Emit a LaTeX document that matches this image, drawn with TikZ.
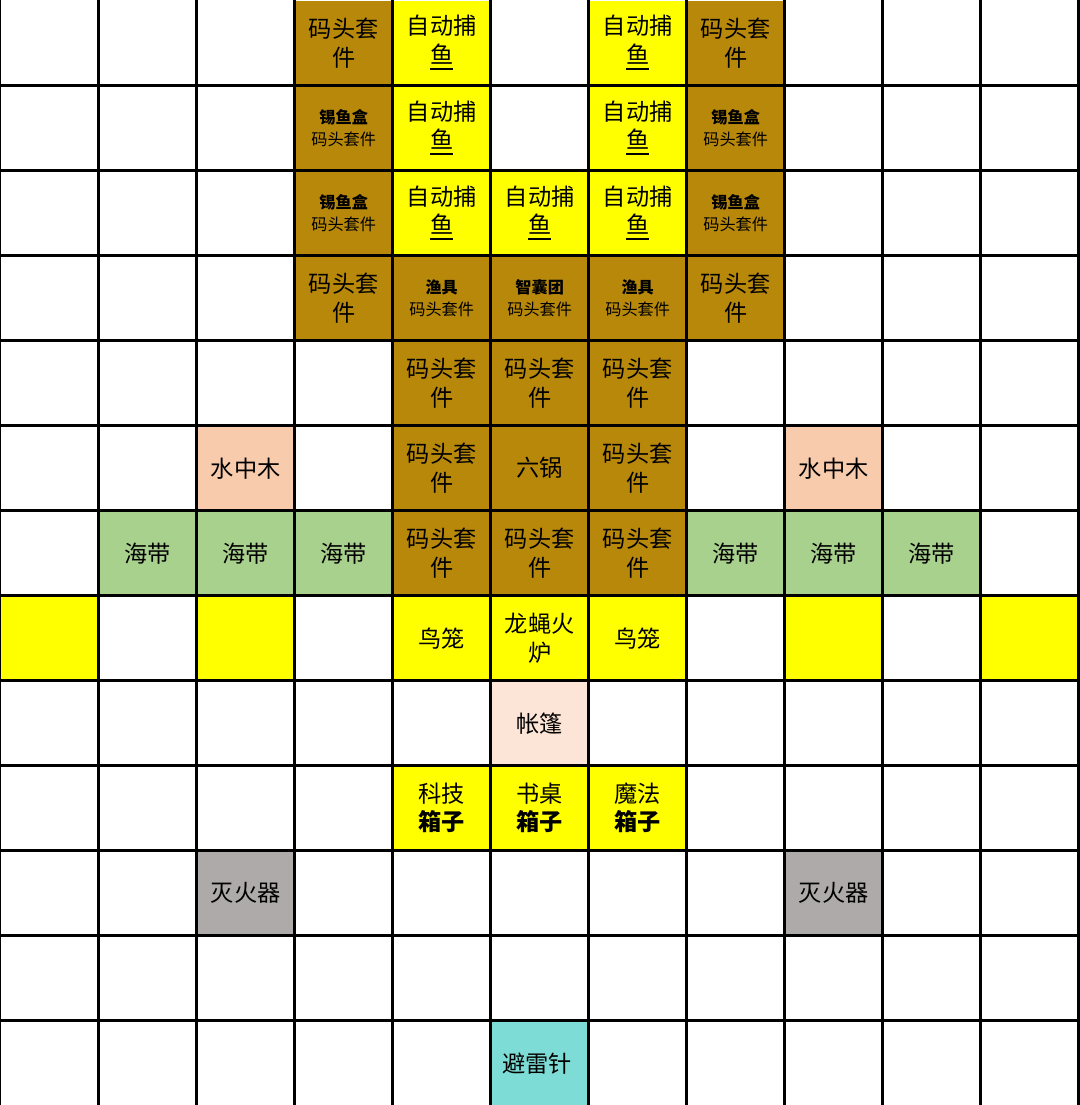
\documentclass[tikz,border=0pt]{standalone}
\usepackage{fontspec}
\setmainfont{Noto Sans CJK SC}
\definecolor{MarronQuai}{HTML}{B8880B}
\definecolor{JauneVif}{HTML}{FFFF00}
\definecolor{SaumonArbre}{HTML}{F8CBAD}
\definecolor{VertAlgue}{HTML}{A9D18E}
\definecolor{PecheTente}{HTML}{FCE4D6}
\definecolor{GrisExtinct}{HTML}{AEAAAA}
\definecolor{TurquoisePara}{HTML}{7DDDD6}
\tikzset{
	case/.style={minimum width=0.98cm, minimum height=0.85cm, inner sep=0, anchor=north west,
		align=center, font=\fontsize{6.6pt}{8pt}\selectfont},
	petit/.style={font=\fontsize{4.6pt}{6.2pt}\selectfont},
	grille/.style={line width=0.03cm, black}
}
\begin{document}
\begin{tikzpicture}[x=0.98cm, y=-0.85cm]
    \useasboundingbox (0,0) rectangle (10.79cm,-11.05cm);
    % grandes cases
    \foreach \c/\r/\coul/\txt in {
        3/0/MarronQuai/{码头套\\件}, 4/0/JauneVif/{自动捕\\\underline{鱼}}, 6/0/JauneVif/{自动捕\\\underline{鱼}}, 7/0/MarronQuai/{码头套\\件},
        4/1/JauneVif/{自动捕\\\underline{鱼}}, 6/1/JauneVif/{自动捕\\\underline{鱼}},
        4/2/JauneVif/{自动捕\\\underline{鱼}}, 5/2/JauneVif/{自动捕\\\underline{鱼}}, 6/2/JauneVif/{自动捕\\\underline{鱼}},
        3/3/MarronQuai/{码头套\\件}, 7/3/MarronQuai/{码头套\\件},
        4/4/MarronQuai/{码头套\\件}, 5/4/MarronQuai/{码头套\\件}, 6/4/MarronQuai/{码头套\\件},
        2/5/SaumonArbre/{水中木}, 4/5/MarronQuai/{码头套\\件}, 5/5/MarronQuai/{六锅}, 6/5/MarronQuai/{码头套\\件}, 8/5/SaumonArbre/{水中木},
        1/6/VertAlgue/{海带}, 2/6/VertAlgue/{海带}, 3/6/VertAlgue/{海带},
        4/6/MarronQuai/{码头套\\件}, 5/6/MarronQuai/{码头套\\件}, 6/6/MarronQuai/{码头套\\件},
        7/6/VertAlgue/{海带}, 8/6/VertAlgue/{海带}, 9/6/VertAlgue/{海带},
        0/7/JauneVif/{}, 2/7/JauneVif/{}, 4/7/JauneVif/{鸟笼}, 5/7/JauneVif/{龙蝇火\\炉}, 6/7/JauneVif/{鸟笼}, 8/7/JauneVif/{}, 10/7/JauneVif/{},
        5/8/PecheTente/{帐篷},
        4/9/JauneVif/{科技\\\textbf{箱子}}, 5/9/JauneVif/{书桌\\\textbf{箱子}}, 6/9/JauneVif/{魔法\\\textbf{箱子}},
        2/10/GrisExtinct/{灭火器}, 8/10/GrisExtinct/{灭火器},
        5/12/TurquoisePara/{避雷针}
    } {
        \node[case, fill=\coul] (c\c-\r) at (\c,\r) {\txt};
    }
    % petites etiquettes
    \foreach \c/\r/\nom in {3/1/锡鱼盒, 7/1/锡鱼盒, 3/2/锡鱼盒, 7/2/锡鱼盒, 4/3/渔具, 5/3/智囊团, 6/3/渔具} {
        \node[case, petit, fill=MarronQuai] (c\c-\r) at (\c,\r) {\textbf{\nom}\\码头套件};
    }
    % quadrillage
    \foreach \i in {0,...,11} {
        \draw[grille] (\i,0) -- (\i,13);
    }
    \foreach \j in {1,...,12} {
        \draw[grille] (0,\j) -- (11,\j);
    }
\end{tikzpicture}
\end{document}
